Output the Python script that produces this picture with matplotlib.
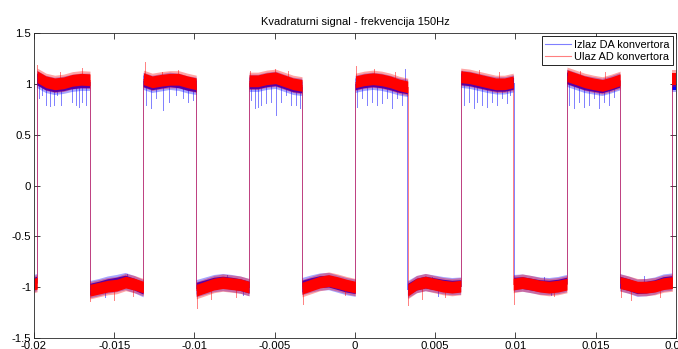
import numpy as np
import matplotlib
matplotlib.use("Agg")
import matplotlib.pyplot as plt
from matplotlib.ticker import FuncFormatter

# ---------------- data ----------------
title = "Kvadraturni signal - frekvencija 150Hz"
labels = ["Izlaz DA konvertora", "Ulaz AD konvertora"]

t_range = [-0.02, 0.02]
# switching instants (s) of each square wave; wave starts low at t=-0.02
edges_da = [-0.01984, -0.01654, -0.01320, -0.00989, -0.00660, -0.00331,
            0.00001, 0.00327, 0.00658, 0.00988, 0.01318, 0.01649, 0.01974]
edges_ad = [-0.01980, -0.01651, -0.01318, -0.00989, -0.00660, -0.00330,
            0.00003, 0.00329, 0.00659, 0.00986, 0.01321, 0.01652, 0.01978]

# centre of the noise band, sampled evenly inside every half period
ad_centre = [
    [-0.97, -0.96],
    [1.07, 1.02, 1.00, 1.01, 1.035, 1.045, 1.04],
    [-1.03, -1.01, -0.99, -0.98, -0.95, -0.97, -1.00],
    [1.05, 1.02, 1.035, 1.045, 1.045, 1.02, 1.00],
    [-1.03, -1.00, -0.97, -0.955, -0.965, -0.975, -1.00],
    [1.03, 1.03, 1.05, 1.06, 1.03, 1.00, 0.985],
    [-1.01, -0.98, -0.95, -0.935, -0.955, -0.98, -1.00],
    [1.02, 1.04, 1.05, 1.04, 1.02, 0.99, 0.97],
    [-1.03, -0.97, -0.95, -0.97, -0.99, -1.00, -0.99],
    [1.07, 1.06, 1.04, 1.02, 1.00, 1.00, 1.02],
    [-0.97, -0.955, -0.97, -0.99, -1.00, -0.99, -0.97],
    [1.08, 1.05, 1.02, 1.00, 0.985, 1.01, 1.04],
    [-0.955, -0.975, -1.00, -1.00, -0.99, -0.965, -0.955],
    [1.05, 1.05],
]
da_centre = [
    [-0.96, -0.95],
    [1.05, 1.00, 0.98, 0.99, 1.01, 1.02, 1.02],
    [-1.02, -1.00, -0.975, -0.96, -0.94, -0.97, -1.01],
    [1.03, 1.00, 1.015, 1.03, 1.02, 0.995, 0.98],
    [-1.01, -0.985, -0.96, -0.95, -0.96, -0.975, -1.00],
    [1.01, 1.01, 1.03, 1.04, 1.01, 0.98, 0.97],
    [-0.99, -0.965, -0.945, -0.94, -0.965, -0.99, -1.005],
    [1.00, 1.02, 1.03, 1.02, 1.00, 0.975, 0.96],
    [-1.02, -0.97, -0.95, -0.965, -0.98, -0.99, -0.985],
    [1.05, 1.04, 1.02, 1.00, 0.985, 0.985, 1.005],
    [-0.96, -0.955, -0.97, -0.985, -0.99, -0.98, -0.96],
    [1.06, 1.03, 1.00, 0.985, 0.97, 0.995, 1.025],
    [-0.95, -0.975, -1.005, -1.00, -0.985, -0.955, -0.945],
    [1.00, 1.00],
]

# isolated spikes (time, value)
da_spike_t = [-0.01969, -0.01948, -0.01927, -0.01902, -0.01875, -0.01854, -0.01833,
              -0.01761, -0.01739, -0.01719, -0.01698, -0.01677,
              -0.01302, -0.01271, -0.01240, -0.01198, -0.01156, -0.01114, -0.01073,
              -0.01042, -0.01010,
              -0.00646, -0.00625, -0.00604, -0.00583, -0.00552, -0.00521, -0.00490,
              -0.00458, -0.00427, -0.00396, -0.00365, -0.00344,
              0.00010, 0.00042, 0.00073, 0.00104, 0.00135, 0.00167, 0.00198,
              0.00229, 0.00260, 0.00292, 0.00310,
              0.00677, 0.00708, 0.00740, 0.00760, 0.00792, 0.00823, 0.00854,
              0.00885, 0.00917, 0.00948, 0.00969,
              0.01333, 0.01365, 0.01396, 0.01427, 0.01458, 0.01490, 0.01521,
              0.01552, 0.01583, 0.01615,
              -0.01420, -0.00800, -0.00150, 0.00480, 0.01180, 0.01800,
              -0.01560, -0.00700, 0.00520, 0.01220]
da_spike_v = [0.86, 0.89, 0.79, 0.78, 0.79, 0.89, 0.79,
              0.82, 0.79, 0.775, 0.82, 0.79,
              0.79, 0.76, 0.86, 0.74, 0.82, 0.89, 0.86,
              0.82, 0.84,
              0.84, 0.76, 0.775, 0.79, 0.81, 0.82, 0.69,
              0.82, 0.89, 0.79, 0.79, 0.76,
              0.775, 0.86, 0.79, 0.82, 0.79, 0.81, 0.86,
              0.76, 0.86, 0.79, 1.15,
              0.79, 0.82, 0.76, 0.82, 0.79, 0.775, 0.82,
              0.79, 0.86, 0.81, 0.89,
              0.79, 0.76, 0.82, 0.775, 0.79, 0.86, 0.76,
              0.82, 0.79, 0.87,
              -0.87, -0.88, -0.90, -0.90, -0.90, -0.89,
              -1.10, -1.08, -1.09, -1.08]
ad_spike_t = [-0.01978, -0.01310, -0.00655, 0.00008, 0.00665, 0.01327,
              -0.01648, -0.00985, -0.00326, 0.00333, 0.00992, 0.01658,
              -0.01500, -0.00900, 0.00420, 0.01720,
              -0.01700, -0.01840, -0.01100, -0.01200, -0.00500, -0.00420,
              0.00120, 0.00250, 0.00770, 0.00900, 0.01400, 0.01560,
              -0.01380, -0.00740, -0.00060, 0.00560, 0.01240, 0.01900]
ad_spike_v = [1.19, 1.21, 1.13, 1.18, 1.13, 1.12,
              -1.14, -1.20, -1.17, -1.18, -1.17, -1.10,
              -1.13, -1.12, -1.12, -1.13,
              1.16, 1.12, 1.14, 1.12, 1.15, 1.13,
              1.15, 1.12, 1.14, 1.12, 1.13, 1.12,
              -1.09, -1.10, -1.08, -1.10, -1.09, -1.10]

# ---------------- drawing ----------------
plt.rcParams["font.family"] = ["Liberation Sans", "DejaVu Sans"]
plt.rcParams["font.size"] = 8.2

fig = plt.figure(figsize=(6.78, 3.49), dpi=100)
ax = fig.add_axes([0.0501, 0.0315, 0.9469, 0.8739])


def draw_wave(edges, centres, sp_t, sp_v, solid, label):
    bounds = [t_range[0]] + list(edges) + [t_range[1]]
    prev_end = None
    for i, c in enumerate(centres):
        c = np.asarray(c)
        ts = np.linspace(bounds[i], bounds[i + 1], len(c))
        ax.fill_between(ts, c - 0.085, c + 0.085, color=solid, alpha=0.35,
                        lw=0, zorder=2)
        ax.fill_between(ts, c - 0.058, c + 0.058, color=solid, lw=0, zorder=2)
        if prev_end is not None:
            ax.plot([bounds[i], bounds[i]], [prev_end, c[0]], color=solid,
                    lw=0.7, alpha=0.5, zorder=2)
        prev_end = c[-1]
    for t, v in zip(sp_t, sp_v):
        k = np.searchsorted(bounds, t) - 1
        c = np.asarray(centres[k])
        ts = np.linspace(bounds[k], bounds[k + 1], len(c))
        base = np.interp(t, ts, c)
        ax.plot([t, t], [base, v], color=solid, lw=0.7, alpha=0.5, zorder=2)
    ax.plot([], [], color=solid, lw=0.8, alpha=0.5, label=label)


draw_wave(edges_da, da_centre, da_spike_t, da_spike_v, "#0000ff", labels[0])
draw_wave(edges_ad, ad_centre, ad_spike_t, ad_spike_v, "#ff0000", labels[1])

ax.set_xlim(t_range)
ax.set_ylim(-1.5, 1.5)
ax.set_xticks(np.arange(-0.02, 0.0201, 0.005))
ax.set_yticks(np.arange(-1.5, 1.51, 0.5))
ax.xaxis.set_major_formatter(FuncFormatter(lambda v, p: "%g" % round(v, 4)))
ax.yaxis.set_major_formatter(FuncFormatter(lambda v, p: "%g" % round(v, 2)))
ax.tick_params(direction="in", length=4, width=0.6, top=True, right=True,
               colors="#262626", labelcolor="black", pad=2)
for s in ax.spines.values():
    s.set_color("#262626")
    s.set_linewidth(0.6)
ax.set_title(title, fontsize=8.0, pad=6)

leg = ax.legend(loc="upper right", fancybox=False, edgecolor="black",
                framealpha=1, borderaxespad=0.3, handlelength=2.3,
                handletextpad=0.3, borderpad=0.3, labelspacing=0.2,
                fontsize=7.9)
leg.get_frame().set_linewidth(0.6)

fig.savefig("out.png", dpi=100)
